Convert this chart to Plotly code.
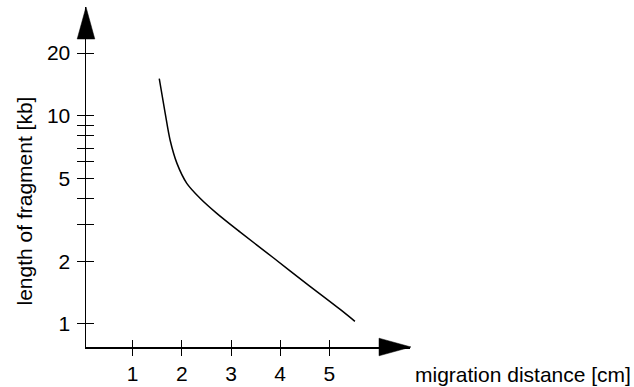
import plotly.graph_objects as go

# ---- data ----
migration_cm = [1.54, 1.66, 1.76, 1.90, 2.10, 2.37, 2.71, 3.18, 3.86, 4.54, 5.22, 5.52]
fragment_kb = [15.1, 10.3, 7.65, 5.91, 4.74, 4.02, 3.40, 2.77, 2.08, 1.56, 1.175, 1.03]

x_tickvals = [1, 2, 3, 4, 5]
x_ticktext = ["1", "2", "3", "4", "5"]
y_tickvals = [1, 2, 3, 4, 5, 6, 7, 8, 9, 10, 20]
y_ticktext = ["1", "2", "", "", "5", "", "", "", "", "10", "20"]

x_title = "migration distance [cm]"
y_title = "length of fragment [kb]"

# ---- layout geometry (pixels) ----
W, H = 634, 387
L, R, T, B = 86, 410, 7, 347
XR = [0.05, 6.64]
YR = [-0.1105, 1.5226]

FONT = "Arial, 'Liberation Sans', Helvetica, sans-serif"
FS = 21


def px(xp):
    return (xp - L) / (R - L)


def py(yp):
    return (B - yp) / (B - T)


fig = go.Figure()
fig.add_trace(go.Scatter(
    x=migration_cm, y=fragment_kb, mode="lines",
    line=dict(color="black", width=1.5, shape="spline", smoothing=0.8),
    hoverinfo="skip", showlegend=False, xaxis="x", yaxis="y"))
# invisible copy so the overlay axes (inner half of crossing ticks) are drawn
fig.add_trace(go.Scatter(
    x=migration_cm, y=fragment_kb, mode="lines",
    line=dict(color="rgba(0,0,0,0)", width=0),
    hoverinfo="skip", showlegend=False, xaxis="x2", yaxis="y2"))

common_x = dict(range=XR, tickmode="array", tickvals=x_tickvals,
                showgrid=False, zeroline=False, ticklen=7, tickwidth=1,
                tickcolor="black", fixedrange=True, automargin=False)
common_y = dict(type="log", range=YR, tickmode="array", tickvals=y_tickvals,
                showgrid=False, zeroline=False, ticklen=8, tickwidth=1,
                tickcolor="black", fixedrange=True, automargin=False)

fig.update_layout(
    width=W, height=H,
    margin=dict(l=L, r=W - R, t=T, b=H - B, pad=0, autoexpand=False),
    paper_bgcolor="white", plot_bgcolor="white",
    font=dict(family=FONT, size=FS, color="black"),
    xaxis=dict(**common_x, ticks="outside", ticktext=x_ticktext,
               showline=True, linecolor="black", linewidth=1.5,
               ticklabelstandoff=0),
    yaxis=dict(**common_y, ticks="outside", ticktext=y_ticktext,
               showline=True, linecolor="black", linewidth=1.5,
               ticklabelstandoff=2),
    xaxis2=dict(**common_x, ticks="inside", showticklabels=False,
                overlaying="x", anchor="y2", side="bottom", showline=False),
    yaxis2=dict(**common_y, ticks="inside", showticklabels=False,
                overlaying="y", anchor="x2", side="left", showline=False),
    showlegend=False,
)

# arrow heads at the axis ends
va = dict(tip=7, base=39, half=8.8)
fig.add_shape(type="path", xref="paper", yref="paper",
              path=f"M {px(L - va['half'])} {py(va['base'])} L {px(L)} {py(va['tip'])} "
                   f"L {px(L + va['half'])} {py(va['base'])} Z",
              fillcolor="black", line=dict(color="black", width=0.5))
ha = dict(tip=411, base=379, half=8.8)
fig.add_shape(type="path", xref="paper", yref="paper",
              path=f"M {px(ha['base'])} {py(B - ha['half'])} L {px(ha['tip'])} {py(B)} "
                   f"L {px(ha['base'])} {py(B + ha['half'])} Z",
              fillcolor="black", line=dict(color="black", width=0.5))

# axis titles
fig.add_annotation(text=y_title, xref="paper", yref="paper",
                   x=px(24), y=py(201.5), xanchor="center", yanchor="middle",
                   textangle=-90, showarrow=False, font=dict(size=FS))
fig.add_annotation(text=x_title, xref="paper", yref="paper",
                   x=px(413), y=py(374), xanchor="left", yanchor="middle",
                   showarrow=False, font=dict(size=FS))

fig.write_html("out.html",
               config={"displayModeBar": False, "staticPlot": True},
               post_script="document.body.style.margin='0';document.body.style.overflow='hidden';")
